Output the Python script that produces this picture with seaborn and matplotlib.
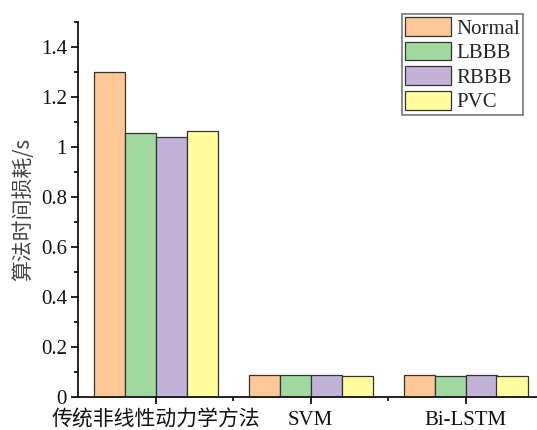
import matplotlib
matplotlib.use("Agg")
import matplotlib.pyplot as plt
import seaborn as sns
import pandas as pd
from matplotlib.ticker import MultipleLocator, FixedLocator

# Algorithm time cost per heartbeat class
methods = ["传统非线性动力学方法", "SVM", "Bi-LSTM"]
classes = ["Normal", "LBBB", "RBBB", "PVC"]
normal = [1.30, 0.090, 0.090]
lbbb = [1.055, 0.090, 0.086]
rbbb = [1.04, 0.087, 0.090]
pvc = [1.064, 0.085, 0.086]
colors = ["#FDC895", "#A0DAA0", "#C3B2D8", "#FFFD9E"]
ylabel = "算法时间损耗/s"

rows = []
for cls, vals in zip(classes, [normal, lbbb, rbbb, pvc]):
    for m, v in zip(methods, vals):
        rows.append({"method": m, "class": cls, "time": v})
df = pd.DataFrame(rows)

sns.set_style("ticks")
plt.rcParams["font.family"] = ["Liberation Serif", "Noto Sans CJK SC"]

fig = plt.figure(figsize=(5.37, 4.30), dpi=100)
ax = fig.add_axes([78 / 537, 33 / 430, 465 / 537, 375 / 430])

sns.barplot(data=df, x="method", y="time", hue="class", order=methods,
            hue_order=classes, palette=colors, width=0.8, saturation=1,
            edgecolor="#333333", linewidth=0.9, ax=ax)

ax.set_xlim(-0.5, 2.5)
ax.set_ylim(0, 1.5)
ax.yaxis.set_major_locator(FixedLocator([0, 0.2, 0.4, 0.6, 0.8, 1.0, 1.2, 1.4]))
ax.yaxis.set_minor_locator(MultipleLocator(0.1))
ax.xaxis.set_minor_locator(FixedLocator([0.5, 1.5]))
ax.set_yticklabels(["0", "0.2", "0.4", "0.6", "0.8", "1", "1.2", "1.4"])

for s in ["top", "right"]:
    ax.spines[s].set_visible(False)
for s in ["left", "bottom"]:
    ax.spines[s].set_linewidth(1.3)
    ax.spines[s].set_color("#111111")

ax.tick_params(axis="both", which="major", direction="out", length=5, width=1.3,
               labelsize=15, colors="#111111", pad=3)
ax.tick_params(axis="both", which="minor", direction="out", length=3, width=1.3,
               colors="#111111")
ax.tick_params(axis="x", which="major", pad=5)

ax.set_xlabel("")
ax.set_ylabel(ylabel, fontsize=15, color="#444444", labelpad=5,
              family=["Noto Sans CJK SC", "DejaVu Sans"])

leg = ax.legend(loc="upper right", bbox_to_anchor=(523 / 537, 1 - 14 / 430),
                bbox_transform=fig.transFigure, fontsize=15, frameon=True,
                fancybox=False, edgecolor="#777777", framealpha=1,
                handlelength=2.2, handleheight=1.0, handletextpad=0.25,
                labelspacing=0.15, borderpad=0.15, borderaxespad=0)
leg.get_frame().set_linewidth(1.2)
for h in leg.get_patches():
    h.set_edgecolor("#333333")

fig.savefig("out.png", dpi=100)
